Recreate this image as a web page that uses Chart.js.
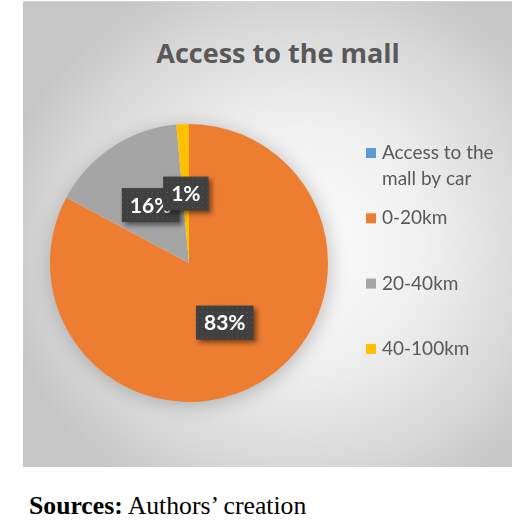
<!DOCTYPE html>
<html>
<head>
<meta charset="utf-8">
<script src="https://cdn.jsdelivr.net/npm/chart.js@4/dist/chart.umd.min.js"></script>
<style>
  html, body { margin: 0; padding: 0; background: #fff; }
  #page { position: relative; width: 520px; height: 524px; overflow: hidden; }
  #panel {
    position: absolute; left: 23px; top: 1px; width: 489px; height: 465px;
    background: radial-gradient(ellipse 62% 62% at 56% 52%, #fdfdfd 0%, #f1f1f1 40%, #dadada 75%, #c6c6c6 100%);
    border-top: 1px solid #d2d2d2;
  }
  #title {
    position: absolute; left: 0; width: 556px; top: 39px; text-align: center;
    font: bold 27px "Open Sans", sans-serif; line-height: 27px; color: #595959;
  }
  #myChart { position: absolute; left: 0; top: 0; }
  #source {
    position: absolute; left: 29px; top: 493px; white-space: nowrap;
    font: 25.7px "Liberation Serif", "Times New Roman", serif; line-height: 26px; color: #000;
  }
</style>
</head>
<body>
<div id="page">
  <div id="panel"></div>
  <div id="title">Access to the mall</div>
  <canvas id="myChart" width="520" height="470"></canvas>
  <div id="source"><b>Sources:</b> Authors’ creation</div>
</div>
<script>
var categories = ['Access to the mall by car', '0-20km', '20-40km', '40-100km'];
var shares = [0, 82.8, 15.75, 1.45];
var colours = ['#5b9bd5', '#ed7d31', '#a5a5a5', '#ffc000'];

var ctx = document.getElementById('myChart').getContext('2d');

// dotted dark fill for the data label boxes
var tile = document.createElement('canvas');
tile.width = 5; tile.height = 5;
var tctx = tile.getContext('2d');
tctx.fillStyle = '#404040';
tctx.fillRect(0, 0, 5, 5);
tctx.fillStyle = '#565656';
tctx.fillRect(2, 2, 1, 1);
var dots = ctx.createPattern(tile, 'repeat');

var pieShadow = {
    id: 'pieShadow',
    beforeDatasetsDraw: function(chart) {
        var arc = chart.getDatasetMeta(0).data[1];
        var c = chart.ctx;
        c.save();
        c.shadowColor = 'rgba(0,0,0,0.25)';
        c.shadowBlur = 20;
        c.shadowOffsetX = 2;
        c.shadowOffsetY = 3;
        c.fillStyle = '#eeeeee';
        c.beginPath();
        c.arc(arc.x, arc.y, arc.outerRadius - 1, 0, Math.PI * 2);
        c.fill();
        c.restore();
    }
};

var boxLabels = {
    id: 'boxLabels',
    afterDatasetsDraw: function(chart) {
        var c = chart.ctx;
        var data = chart.data.datasets[0].data;
        var total = data.reduce(function(a, b) { return a + b; }, 0);
        chart.getDatasetMeta(0).data.forEach(function(arc, i) {
            if (!data[i]) return;
            var text = Math.round(data[i] / total * 100) + '%';
            var p = arc.tooltipPosition();
            c.save();
            c.font = 'bold 21px Lato, sans-serif';
            var w = c.measureText(text).width + 16;
            var h = 34;
            c.shadowColor = 'rgba(0,0,0,0.5)';
            c.shadowBlur = 5;
            c.shadowOffsetX = 3;
            c.shadowOffsetY = 3;
            c.fillStyle = dots;
            c.fillRect(p.x - w / 2, p.y - h / 2, w, h);
            c.shadowColor = 'transparent';
            c.fillStyle = '#ffffff';
            c.textAlign = 'center';
            c.textBaseline = 'middle';
            c.fillText(text, p.x, p.y + 1);
            c.restore();
        });
    }
};

var sideLegend = {
    id: 'sideLegend',
    afterDraw: function(chart) {
        var c = chart.ctx;
        var bg = chart.data.datasets[0].backgroundColor;
        c.save();
        c.font = '19px Lato, sans-serif';
        c.textBaseline = 'middle';
        chart.data.labels.forEach(function(label, i) {
            var y = 153 + i * 65.3;
            c.fillStyle = bg[i];
            c.fillRect(366, y - 5, 10, 10);
            c.fillStyle = '#595959';
            // wrap long labels
            var words = label.split(' ');
            var line = '';
            var lines = [];
            words.forEach(function(wd) {
                var test = line ? line + ' ' + wd : wd;
                if (c.measureText(test).width > 122 && line) {
                    lines.push(line);
                    line = wd;
                } else {
                    line = test;
                }
            });
            lines.push(line);
            lines.forEach(function(l, k) {
                c.fillText(l, 382, y + k * 26);
            });
        });
        c.restore();
    }
};

var chart = new Chart(ctx, {
    type: 'pie',
    data: {
        labels: categories,
        datasets: [{
            data: shares,
            backgroundColor: colours,
            borderWidth: 0
        }]
    },
    options: {
        responsive: false,
        animation: false,
        layout: { padding: { top: 124, bottom: 68, left: 50, right: 192 } },
        plugins: {
            legend: { display: false },
            tooltip: { enabled: false },
            title: { display: false }
        }
    },
    plugins: [pieShadow, boxLabels, sideLegend]
});
</script>
</body>
</html>
